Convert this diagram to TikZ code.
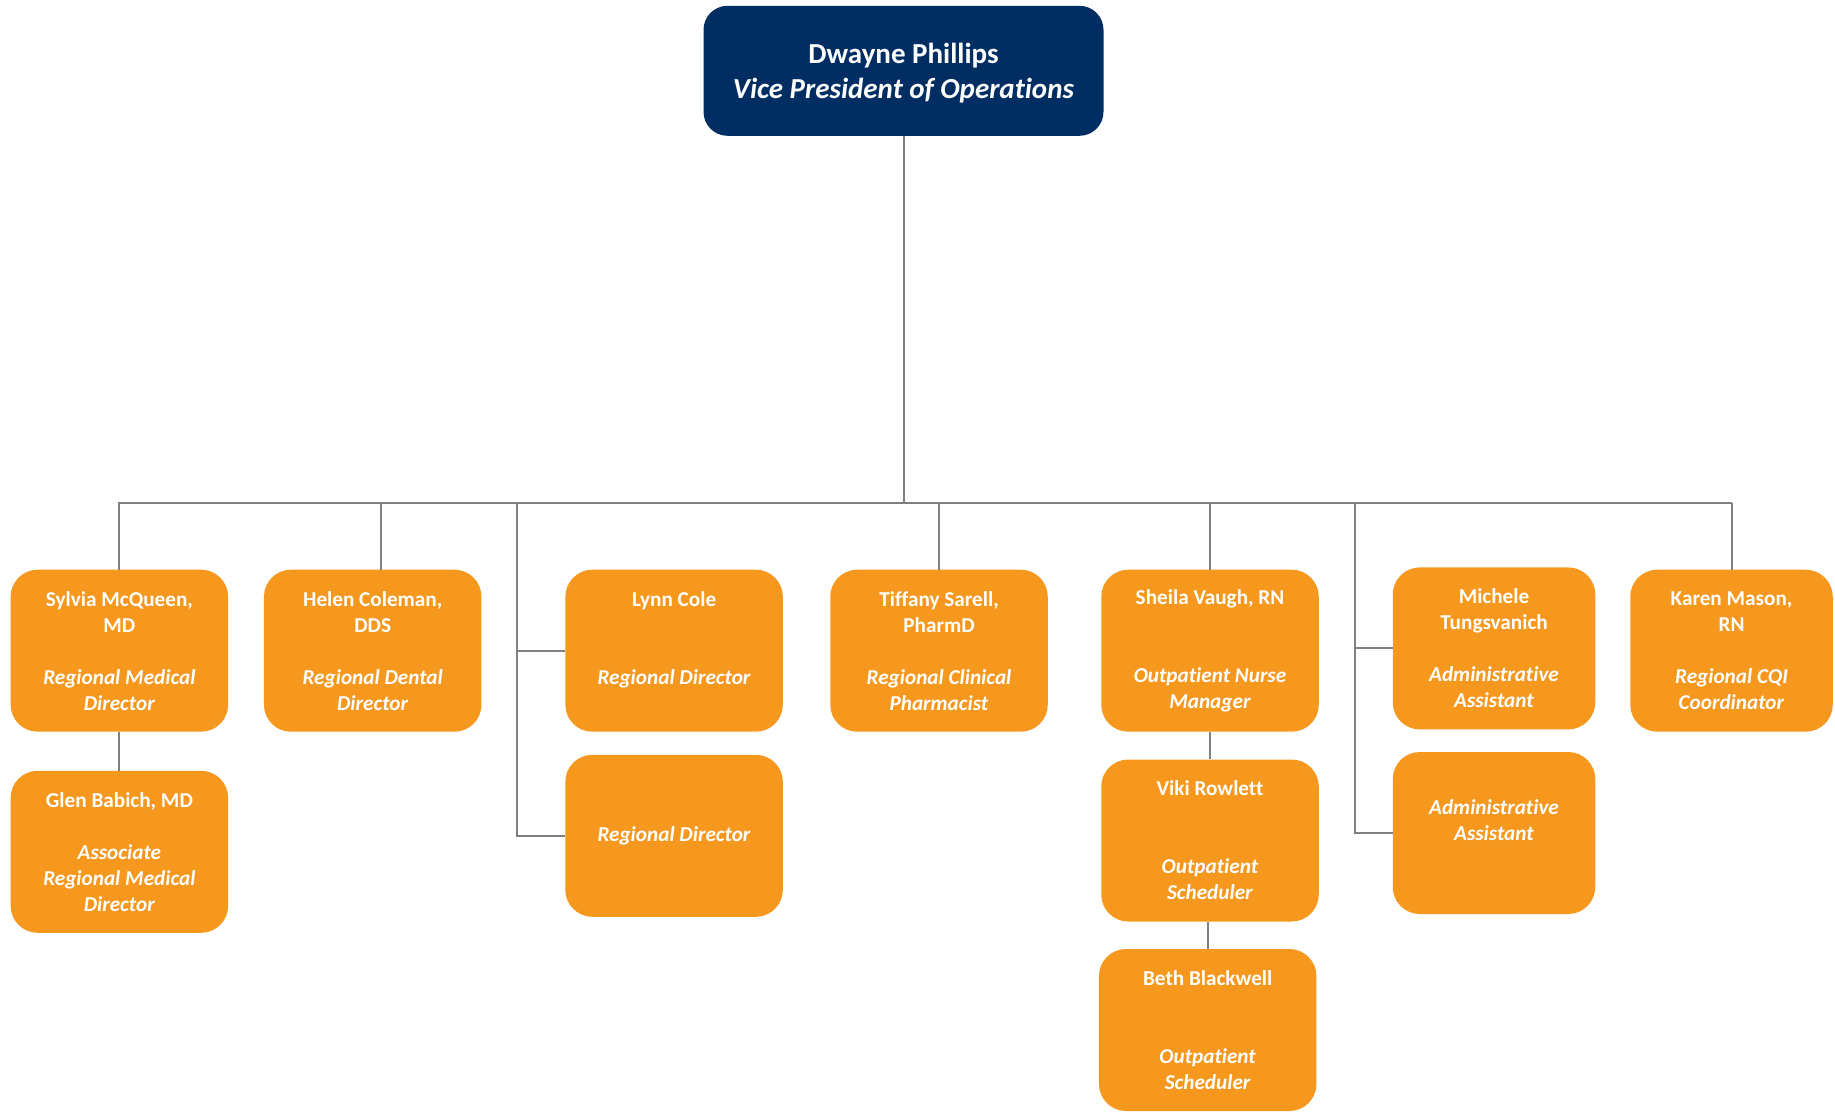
\documentclass[tikz,border=0pt]{standalone}
\usepackage{fontspec}
\setmainfont{Carlito}[RawFeature={-liga;-clig;-calt;-dlig}]
\usepackage{xcolor}
\usepackage{tikz}
\usetikzlibrary{positioning}
\definecolor{navy}{HTML}{002E63}
\definecolor{tangerine}{HTML}{F7981E}
\definecolor{linkgray}{HTML}{808080}
\newcommand{\post}[1]{\textit{#1}}

\begin{document}
\begin{tikzpicture}[
  x=1pt, y=-1pt,
  exec/.style={rectangle, rounded corners=24pt, fill=navy, text=white,
    minimum width=400pt, minimum height=130pt, align=center, inner sep=0pt,
    text depth=0pt, font=\bfseries\fontsize{29}{35}\selectfont},
  staff/.style={rectangle, rounded corners=27pt, fill=tangerine, text=white,
    minimum width=217.5pt, minimum height=162pt, align=center, inner sep=0pt,
    font=\bfseries\fontsize{21.2}{26}\selectfont},
  narrow/.style={staff, minimum width=202.5pt},
  link/.style={draw=linkgray, line width=2pt}
]
\useasboundingbox (0,0) rectangle (1835,1111);
\node[exec] (vp) at (903.5,70.8) {Dwayne Phillips\\ \post{Vice President of Operations}};
\node[staff] (sylvia)  at (119.4,650.7) {Sylvia McQueen,\\MD\\[26pt]\post{Regional Medical}\\\post{Director}};
\node[staff, below=38.7pt of sylvia] (glen) {Glen Babich, MD\\[26pt]\post{Associate}\\\post{Regional Medical}\\\post{Director}};
\node[staff] (helen)   at (372.7,650.7) {Helen Coleman,\\DDS\\[26pt]\post{Regional Dental}\\\post{Director}};
\node[staff] (lynn)    at (674.1,650.7) {Lynn Cole\\[52pt]\post{Regional Director}\\\mbox{}};
\node[staff, below=22.7pt of lynn] (regdir) {\post{Regional Director}};
\node[staff] (tiffany) at (939,650.7) {Tiffany Sarell,\\PharmD\\[26pt]\post{Regional Clinical}\\\post{Pharmacist}};
\node[staff] (sheila)  at (1210,650.7) {Sheila Vaugh, RN\\[52pt]\post{Outpatient Nurse}\\\post{Manager}};
\node[staff, below=27.4pt of sheila] (viki) {Viki Rowlett\\[52pt]\post{Outpatient}\\\post{Scheduler}};
\node[staff] (beth)    at (1207.7,1030) {Beth Blackwell\\[52pt]\post{Outpatient}\\\post{Scheduler}};
\node[narrow] (michele) at (1494,648.4) {Michele\\Tungsvanich\\[26pt]\post{Administrative}\\\post{Assistant}};
\node[narrow, below=22.2pt of michele] (admin) {\post{Administrative}\\\post{Assistant}\\\mbox{}};
\node[narrow] (karen)   at (1731.5,650.7) {Karen Mason,\\RN\\[26pt]\post{Regional CQI}\\\post{Coordinator}};

\coordinate (busL) at (118.4,503.2);
\coordinate (busR) at (1732,503.2);
\coordinate (lynnbar) at (517.3,503.2);
\coordinate (adminbar) at (1355.2,503.2);
\draw[link] (vp.south) -- (vp.south |- busL);
\draw[link] (busL) -- (busR);
\foreach \n in {sylvia,tiffany,sheila,karen}
  \draw[link] (\n.north) -- (\n.north |- busL);
\draw[link] ([xshift=8pt]helen.north) -- ([xshift=8pt]helen.north |- busL);
\draw[link] (lynnbar) |- (regdir.west);
\draw[link] (lynnbar |- lynn.west) -- (lynn.west);
\draw[link] (adminbar) |- (admin.west);
\draw[link] (adminbar |- michele.west) -- (michele.west);
\draw[link] (sylvia) -- (glen);
\draw[link] (sheila) -- (viki);
\draw[link] (beth.north) -- (beth.north |- viki.south);
\end{tikzpicture}
\end{document}
